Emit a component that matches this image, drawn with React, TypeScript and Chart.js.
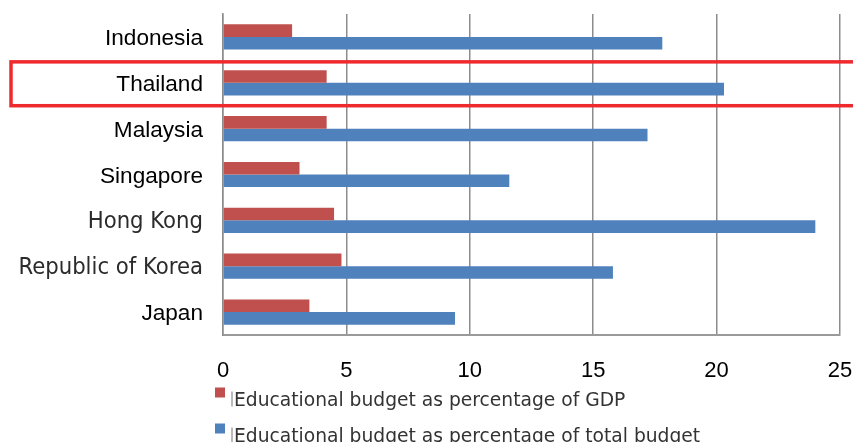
import React, { useEffect, useRef } from "react";
import { Chart, registerables } from "chart.js";

Chart.register(...registerables);

const categories = ["Indonesia", "Thailand", "Malaysia", "Singapore", "Hong Kong", "Republic of Korea", "Japan"];
const gdpShare = [2.8, 4.2, 4.2, 3.1, 4.5, 4.8, 3.5];
const budgetShare = [17.8, 20.3, 17.2, 11.6, 24.0, 15.8, 9.4];
const xTicks = [0, 5, 10, 15, 20, 25];
const seriesLabels = [
  "Educational budget as percentage of GDP",
  "Educational budget as percentage of total budget",
];
const highlighted = "Thailand";

const CONDENSED = "'DejaVu Sans Condensed', 'DejaVu Sans', sans-serif";
const DEJAVU = "'DejaVu Sans', sans-serif";
const ARIAL = "'Liberation Sans', Arial, sans-serif";

const legendPlugin = {
  id: "stackedLegend",
  afterDraw(chart: any) {
    const ctx = chart.ctx;
    ctx.save();
    ctx.font = `18.7px ${DEJAVU}`;
    ctx.textBaseline = "alphabetic";
    ctx.textAlign = "left";
    chart.data.datasets.forEach((ds: any, i: number) => {
      const base = 405.5 + i * 36;
      ctx.fillStyle = ds.backgroundColor;
      ctx.fillRect(215, base - 18, 10, 10);
      ctx.fillStyle = "#777777";
      ctx.fillRect(231.5, base - 14, 1, 15);
      ctx.fillStyle = "#333333";
      ctx.fillText(ds.label, 234, base);
    });
    ctx.restore();
  },
};

const highlightPlugin = {
  id: "highlightBox",
  afterDraw(chart: any) {
    const y = chart.scales.y;
    const idx = categories.indexOf(highlighted);
    if (idx < 0) return;
    const c = y.getPixelForValue(idx);
    const half = (y.getPixelForValue(1) - y.getPixelForValue(0)) / 2;
    const ctx = chart.ctx;
    ctx.save();
    ctx.strokeStyle = "#ee2a2f";
    ctx.lineWidth = 3.5;
    ctx.strokeRect(11, c - half + 2, chart.width + 20, 2 * half - 2);
    ctx.restore();
  },
};

export default function App() {
  const ref = useRef<HTMLCanvasElement | null>(null);
  useEffect(() => {
    if (!ref.current) return;
    const chart = new Chart(ref.current, {
      type: "bar",
      data: {
        labels: categories,
        datasets: [
          { label: seriesLabels[0], data: gdpShare, backgroundColor: "#C0504D" },
          { label: seriesLabels[1], data: budgetShare, backgroundColor: "#4F81BD" },
        ],
      },
      options: {
        indexAxis: "y",
        animation: false,
        responsive: true,
        maintainAspectRatio: false,
        layout: { padding: { top: 14, right: 13, left: 0, bottom: 0 } },
        datasets: { bar: { categoryPercentage: 0.55, barPercentage: 1 } },
        plugins: { legend: { display: false }, tooltip: { enabled: false } },
        scales: {
          x: {
            min: 0,
            max: 25,
            afterBuildTicks: (s: any) => {
              s.ticks = xTicks.map((v) => ({ value: v }));
            },
            afterFit: (s: any) => {
              s.height = 107;
              s.paddingLeft = 0;
              s.paddingRight = 0;
            },
            grid: { color: "#8c8c8c", lineWidth: 1.5, drawTicks: false },
            border: { color: "#9a9a9a", width: 2 },
            ticks: { padding: 23, color: "#000", font: { family: ARIAL, size: 22 } },
          },
          y: {
            afterFit: (s: any) => {
              s.width = 223;
              s.paddingTop = 0;
              s.paddingBottom = 0;
            },
            grid: { display: false, drawTicks: false },
            border: { color: "#8c8c8c", width: 1.5 },
            ticks: {
              padding: 20,
              labelOffset: 2,
              color: (c: any) => (c.index === 4 || c.index === 5 ? "#2b2b2b" : "#000"),
              font: (c: any) =>
                c.index === 4 || c.index === 5
                  ? { family: CONDENSED, size: 23.6 }
                  : { family: ARIAL, size: 22.6 },
            },
          },
        },
      },
      plugins: [legendPlugin, highlightPlugin],
    } as any);
    return () => chart.destroy();
  }, []);
  return (
    <div style={{ position: "fixed", left: 0, top: 0, width: 853, height: 442, background: "#fff" }}>
      <canvas ref={ref} />
    </div>
  );
}
